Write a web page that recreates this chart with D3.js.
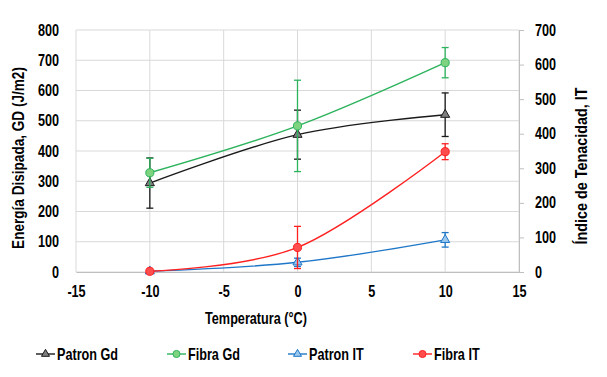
<!DOCTYPE html>
<html><head><meta charset="utf-8">
<script src="https://cdn.jsdelivr.net/npm/d3@7"></script>
<style>
body{margin:0;background:#fff;}
text{font-family:"Liberation Sans",Arial,sans-serif;font-weight:bold;fill:#000;}
</style></head><body>
<svg id="c" width="607" height="377"></svg>
<script>
const temps = [-10, 0, 10];
const patronGd = [294, 454, 520];
const patronGdErr = [83, 81, 72];
const fibraGd = [328, 483, 692];
const fibraGdErr = [48, 151, 50];
const patronIT = [2, 28, 93];
const patronITErr = [0, 12, 21];
const fibraIT = [2, 71, 348];
const fibraITErr = [0, 61, 23];
const xTicks = [-15, -10, -5, 0, 5, 10, 15];
const yLeftTicks = [0, 100, 200, 300, 400, 500, 600, 700, 800];
const yRightTicks = [0, 100, 200, 300, 400, 500, 600, 700];
const legendLabels = ["Patron Gd", "Fibra Gd", "Patron IT", "Fibra IT"];

const svg = d3.select("#c");
const L = 76, R = 519, T = 30, B = 272;
const x = d3.scaleLinear().domain([-15, 15]).range([L, R]);
const yL = d3.scaleLinear().domain([0, 800]).range([B, T]);
const yR = d3.scaleLinear().domain([0, 700]).range([B, T]);
const grid = "#d9d9d9";
const SX = 0.79;
function narrow(sel, target) {
  sel.each(function () {
    const t = d3.select(this);
    const ax = +t.attr("x") || 0;
    const prev = t.attr("transform") || "";
    const sx = target ? target / this.getComputedTextLength() : SX;
    t.attr("transform", `${prev} translate(${ax},0) scale(${sx},1) translate(${-ax},0)`);
  });
}

// gridlines
svg.append("g").selectAll("line").data(xTicks).join("line")
  .attr("x1", d => x(d)).attr("x2", d => x(d)).attr("y1", T).attr("y2", B)
  .attr("stroke", grid).attr("stroke-width", 1);
svg.append("g").selectAll("line").data(yLeftTicks).join("line")
  .attr("x1", L).attr("x2", R).attr("y1", d => yL(d)).attr("y2", d => yL(d))
  .attr("stroke", grid).attr("stroke-width", 1);

// axes
const fs = "16px";
const fmt = d => String(d);
const gx = svg.append("g").attr("transform", `translate(0,${B})`)
  .call(d3.axisBottom(x).tickValues(xTicks).tickFormat(fmt).tickSize(0).tickPadding(14));
gx.select(".domain").attr("stroke", "#bfbfbf");
gx.selectAll("text").style("font-size", fs).call(narrow);

const gl = svg.append("g").attr("transform", `translate(${L},0)`)
  .call(d3.axisLeft(yL).tickValues(yLeftTicks).tickFormat(fmt).tickSize(0).tickPadding(17));
gl.select(".domain").remove();
gl.selectAll("text").style("font-size", fs).call(narrow);

const gr = svg.append("g").attr("transform", `translate(${R},0)`)
  .call(d3.axisRight(yR).tickValues(yRightTicks).tickFormat(fmt).tickSize(5).tickPadding(11));
gr.select(".domain").attr("stroke", "#bfbfbf");
gr.selectAll("line").attr("stroke", "#bfbfbf");
gr.selectAll("text").style("font-size", fs).call(narrow);

// titles
svg.append("text").attr("x", 256).attr("y", 324).attr("text-anchor", "middle")
  .style("font-size", fs).text("Temperatura (°C)").call(narrow, 102);
svg.append("text").attr("transform", "translate(24,158) rotate(-90)").attr("text-anchor", "middle")
  .style("font-size", fs).text("Energía Disipada, GD (J/m2)").call(narrow, 182);
svg.append("text").attr("transform", "translate(587,166) rotate(-90)").attr("text-anchor", "middle")
  .style("font-size", fs).text("Índice de Tenacidad, IT").call(narrow, 157);

const series = [
  {vals: patronGd, err: patronGdErr, y: yL, line: "#1a1a1a", fill: "#7f7f7f", sym: d3.symbolTriangle},
  {vals: fibraGd, err: fibraGdErr, y: yL, line: "#2db35d", fill: "#7dd37f", sym: d3.symbolCircle},
  {vals: patronIT, err: patronITErr, y: yR, line: "#1f77c8", fill: "#9cc8ee", sym: d3.symbolTriangle},
  {vals: fibraIT, err: fibraITErr, y: yR, line: "#ff2020", fill: "#ff4d4d", sym: d3.symbolCircle}
];

const lineGen = (ys) => d3.line().x((d, i) => x(temps[i])).y(d => ys(d)).curve(d3.curveCatmullRom.alpha(0));

series.forEach(s => {
  const g = svg.append("g");
  s.vals.forEach((v, i) => {
    if (!s.err[i]) return;
    const cx = x(temps[i]), y1 = s.y(v + s.err[i]), y2 = s.y(Math.max(0, v - s.err[i]));
    g.append("line").attr("x1", cx).attr("x2", cx).attr("y1", y1).attr("y2", y2).attr("stroke", s.line).attr("stroke-width", 1.3);
    [y1, y2].forEach(yy => g.append("line").attr("x1", cx - 3.5).attr("x2", cx + 3.5).attr("y1", yy).attr("y2", yy)
      .attr("stroke", s.line).attr("stroke-width", 1.3));
  });
  g.append("path").datum(s.vals).attr("d", lineGen(s.y)).attr("fill", "none")
    .attr("stroke", s.line).attr("stroke-width", 1.4);
  g.selectAll("path.m").data(s.vals).join("path").attr("class", "m")
    .attr("transform", (d, i) => `translate(${x(temps[i])},${s.y(d)})`)
    .attr("d", d3.symbol().type(s.sym).size(s.sym === d3.symbolCircle ? 52 : 36))
    .attr("fill", s.fill).attr("stroke", s.line).attr("stroke-width", 1);
});

// legend
const legX = [36, 167, 288, 413];
const ly = 354;
series.forEach((s, i) => {
  const g = svg.append("g").attr("transform", `translate(${legX[i]},${ly})`);
  g.append("line").attr("x1", 0).attr("x2", 19).attr("stroke", s.line).attr("stroke-width", 1.4);
  g.append("path").attr("transform", "translate(9.5,0)")
    .attr("d", d3.symbol().type(s.sym).size(s.sym === d3.symbolCircle ? 40 : 28))
    .attr("fill", s.fill).attr("stroke", s.line).attr("stroke-width", 1);
  g.append("text").attr("x", 21).attr("y", 0).attr("dy", "0.35em").style("font-size", fs).text(legendLabels[i]).call(narrow);
});
</script>
</body></html>
